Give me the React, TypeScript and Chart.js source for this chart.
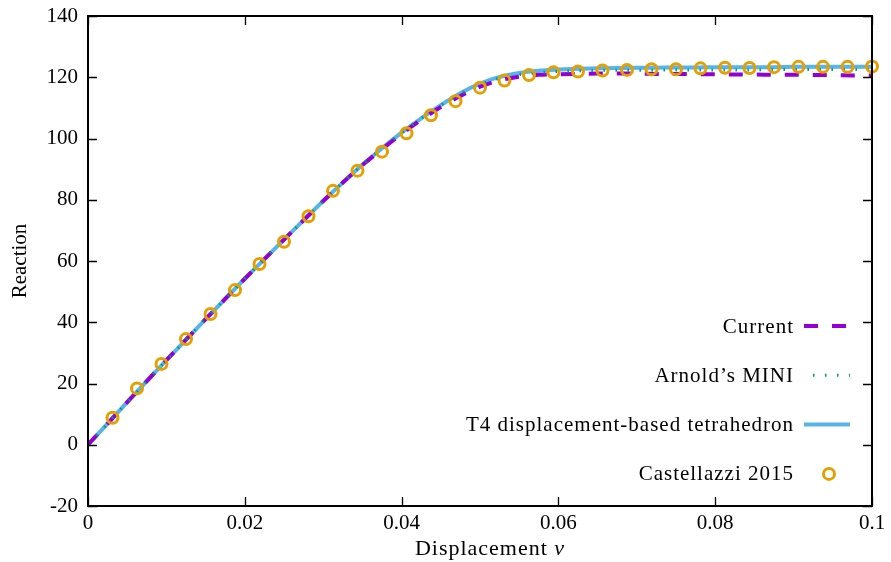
import React, { useEffect, useRef } from "react";
import { Chart, registerables } from "chart.js";

Chart.register(...registerables);

// ---------- data ----------
const lineX = [
  0, 0.0025, 0.005, 0.0075, 0.01, 0.0125, 0.015, 0.0175, 0.02, 0.0225,
  0.025, 0.0275, 0.03, 0.0325, 0.035, 0.0375, 0.04, 0.0425, 0.045, 0.0475,
  0.05, 0.0525, 0.055, 0.0575, 0.06, 0.0625, 0.065, 0.0675, 0.07, 0.0725,
  0.075, 0.0775, 0.08, 0.0825, 0.085, 0.0875, 0.09, 0.0925, 0.095, 0.0975, 0.1,
];

const currentY = [
  0, 6.9, 13.9, 20.8, 27.6, 34.3, 41.0, 47.6, 54.2, 60.6,
  67.0, 73.3, 79.6, 85.6, 91.3, 96.5, 101.5, 106.1, 110.3, 113.9,
  116.9, 119.0, 120.2, 120.8, 121.0, 121.1, 121.2, 121.2, 121.2, 121.1,
  121.1, 121.0, 121.0, 120.9, 120.9, 120.8, 120.8, 120.7, 120.7, 120.6, 120.6,
];

const miniY = [
  0, 6.9, 13.9, 20.8, 27.6, 34.3, 41.0, 47.6, 54.2, 60.6,
  67.0, 73.3, 79.6, 85.6, 91.4, 96.8, 101.9, 106.6, 110.9, 114.6,
  117.6, 119.7, 120.9, 121.5, 121.9, 122.1, 122.2, 122.3, 122.3, 122.3,
  122.4, 122.4, 122.4, 122.4, 122.4, 122.5, 122.5, 122.5, 122.5, 122.5, 122.5,
];

const t4Y = [
  0, 6.9, 13.9, 20.8, 27.6, 34.3, 41.0, 47.6, 54.2, 60.6,
  67.0, 73.3, 79.6, 85.6, 91.4, 96.8, 101.9, 106.6, 110.9, 114.8,
  117.9, 120.1, 121.4, 122.1, 122.5, 122.8, 122.9, 123.0, 123.1, 123.1,
  123.2, 123.2, 123.3, 123.3, 123.3, 123.3, 123.4, 123.4, 123.4, 123.4, 123.4,
];

const castX = [
  0.003125, 0.00625, 0.009375, 0.0125, 0.015625, 0.01875, 0.021875, 0.025,
  0.028125, 0.03125, 0.034375, 0.0375, 0.040625, 0.04375, 0.046875, 0.05,
  0.053125, 0.05625, 0.059375, 0.0625, 0.065625, 0.06875, 0.071875, 0.075,
  0.078125, 0.08125, 0.084375, 0.0875, 0.090625, 0.09375, 0.096875, 0.1,
];

const castY = [
  8.8, 18.4, 26.4, 34.5, 42.7, 50.5, 59.0, 66.3,
  74.6, 82.9, 89.5, 95.7, 101.7, 107.6, 112.2, 116.6,
  118.9, 120.7, 121.6, 121.9, 122.2, 122.4, 122.6, 122.6,
  122.9, 123.1, 123.0, 123.3, 123.4, 123.4, 123.4, 123.5,
];

const seriesLabels = [
  "Current",
  "Arnold\u2019s MINI",
  "T4 displacement-based tetrahedron",
  "Castellazzi 2015",
];

const xTicks = [0, 0.02, 0.04, 0.06, 0.08, 0.1];
const xTickLabels = ["0", "0.02", "0.04", "0.06", "0.08", "0.1"];
const yTicks = [-20, 0, 20, 40, 60, 80, 100, 120, 140];
const yTickLabels = ["-20", "0", "20", "40", "60", "80", "100", "120", "140"];

const xTitle = "Displacement ";
const xTitleVar = "v";
const yTitle = "Reaction";

// ---------- styling ----------
const FONT = "'Liberation Serif', 'Times New Roman', serif";
const FONT_SIZE = 21;
const COLORS = ["#9400D3", "#009E73", "#56B4E9", "#E69F00"];

const pts = (xs: number[], ys: number[]) => xs.map((x, i) => ({ x, y: ys[i] }));

const framePlugin = {
  id: "gnuFrame",
  afterDraw(chart: any) {
    const { ctx, chartArea: a, scales } = chart;
    const xs = scales.x;
    const ys = scales.y;
    ctx.save();
    // ticks (inward, mirrored)
    ctx.strokeStyle = "#000";
    ctx.lineWidth = 1.3;
    const tl = 9;
    ctx.beginPath();
    for (const v of xTicks) {
      const px = Math.round(xs.getPixelForValue(v)) + 0.5;
      ctx.moveTo(px, a.bottom);
      ctx.lineTo(px, a.bottom - tl);
      ctx.moveTo(px, a.top);
      ctx.lineTo(px, a.top + tl);
    }
    for (const v of yTicks) {
      const py = Math.round(ys.getPixelForValue(v)) + 0.5;
      ctx.moveTo(a.left, py);
      ctx.lineTo(a.left + tl, py);
      ctx.moveTo(a.right, py);
      ctx.lineTo(a.right - tl, py);
    }
    ctx.stroke();
    // frame
    ctx.lineWidth = 2;
    ctx.strokeRect(a.left, a.top, a.right - a.left, a.bottom - a.top);

    // legend
    const textRight = a.right - 79;
    const sx0 = a.right - 68;
    const sx1 = a.right - 22;
    const y0 = a.top + 310;
    const dy = 49.3;
    ctx.font = `${FONT_SIZE}px ${FONT}`;
    (ctx as any).letterSpacing = "1px";
    ctx.fillStyle = "#000";
    ctx.textAlign = "right";
    ctx.textBaseline = "middle";
    chart.data.datasets.forEach((ds: any, i: number) => {
      const y = y0 + i * dy;
      ctx.fillStyle = "#000";
      ctx.fillText(ds.label, textRight + 1, y + 1);
      if (ds.showLine) {
        ctx.save();
        ctx.strokeStyle = ds.borderColor;
        ctx.lineWidth = ds.borderWidth;
        ctx.setLineDash(ds.borderDash || []);
        ctx.lineDashOffset = ds.legendDashOffset || 0;
        ctx.beginPath();
        ctx.moveTo(sx0, y);
        ctx.lineTo(sx1, y);
        ctx.stroke();
        ctx.restore();
      } else {
        ctx.save();
        ctx.strokeStyle = ds.pointBorderColor;
        ctx.lineWidth = ds.pointBorderWidth;
        ctx.beginPath();
        ctx.arc((sx0 + sx1) / 2 + 2, y, ds.pointRadius, 0, Math.PI * 2);
        ctx.stroke();
        ctx.restore();
      }
    });

    // x title
    const XT = 22;
    ctx.textAlign = "left";
    ctx.textBaseline = "middle";
    ctx.font = `${XT}px ${FONT}`;
    const w1 = ctx.measureText(xTitle).width;
    ctx.font = `italic ${XT}px ${FONT}`;
    const w2 = ctx.measureText(xTitleVar).width;
    const cx = (a.left + a.right) / 2 + 10;
    const start = cx - (w1 + w2) / 2;
    const ty = a.bottom + 43;
    ctx.font = `${XT}px ${FONT}`;
    ctx.fillText(xTitle, start, ty);
    ctx.font = `italic ${XT}px ${FONT}`;
    ctx.fillText(xTitleVar, start + w1, ty);

    // y title
    ctx.save();
    (ctx as any).letterSpacing = "0px";
    ctx.translate(20, (a.top + a.bottom) / 2);
    ctx.rotate(-Math.PI / 2);
    ctx.textAlign = "center";
    ctx.textBaseline = "middle";
    ctx.font = `${FONT_SIZE}px ${FONT}`;
    ctx.fillText(yTitle, 0, 0);
    ctx.restore();

    ctx.restore();
  },
};

export default function App() {
  const ref = useRef<HTMLCanvasElement | null>(null);

  useEffect(() => {
    document.body.style.margin = "0";
    const canvas = ref.current;
    if (!canvas) return;
    const chart = new Chart(canvas, {
      type: "scatter",
      data: {
        datasets: [
          {
            label: seriesLabels[0],
            data: pts(lineX, currentY),
            showLine: true,
            borderColor: COLORS[0],
            backgroundColor: COLORS[0],
            borderWidth: 4,
            borderDash: [14, 14],
            pointRadius: 0,
            cubicInterpolationMode: "monotone",
            order: 2,
          } as any,
          {
            label: seriesLabels[1],
            data: pts(lineX, miniY),
            showLine: true,
            borderColor: COLORS[1],
            backgroundColor: COLORS[1],
            borderWidth: 3,
            borderDash: [1.5, 10.5],
            legendDashOffset: -9,
            pointRadius: 0,
            cubicInterpolationMode: "monotone",
            order: 1,
          } as any,
          {
            label: seriesLabels[2],
            data: pts(lineX, t4Y),
            showLine: true,
            borderColor: COLORS[2],
            backgroundColor: COLORS[2],
            borderWidth: 4,
            pointRadius: 0,
            cubicInterpolationMode: "monotone",
            order: 3,
          } as any,
          {
            label: seriesLabels[3],
            data: pts(castX, castY),
            showLine: false,
            pointRadius: 5.5,
            pointBorderWidth: 3,
            pointBorderColor: COLORS[3],
            pointBackgroundColor: "rgba(0,0,0,0)",
            borderColor: COLORS[3],
            backgroundColor: "rgba(0,0,0,0)",
            clip: false,
            order: 0,
          } as any,
        ],
      },
      options: {
        animation: false,
        responsive: false,
        maintainAspectRatio: false,
        layout: { padding: { left: 0, right: 19, top: 16, bottom: 0 } },
        plugins: {
          legend: { display: false },
          tooltip: { enabled: false },
        },
        scales: {
          x: {
            type: "linear",
            min: 0,
            max: 0.1,
            grid: { display: false, drawTicks: false },
            border: { display: false },
            afterBuildTicks: (s: any) => {
              s.ticks = xTicks.map((v) => ({ value: v }));
            },
            afterFit: (s: any) => {
              s.height = 56;
              s.paddingLeft = 0;
              s.paddingRight = 0;
              s.paddingTop = 0;
              s.paddingBottom = 0;
            },
            ticks: {
              autoSkip: false,
              maxRotation: 0,
              padding: 5,
              color: "#000",
              font: { family: FONT, size: FONT_SIZE },
              callback: (_v: any, i: number) => xTickLabels[i],
            },
          },
          y: {
            type: "linear",
            min: -20,
            max: 140,
            grid: { display: false, drawTicks: false },
            border: { display: false },
            afterBuildTicks: (s: any) => {
              s.ticks = yTicks.map((v) => ({ value: v }));
            },
            afterFit: (s: any) => {
              s.width = 88;
              s.paddingTop = 0;
              s.paddingBottom = 0;
              s.paddingLeft = 0;
              s.paddingRight = 0;
            },
            ticks: {
              autoSkip: false,
              padding: 10,
              color: "#000",
              font: { family: FONT, size: FONT_SIZE },
              callback: (_v: any, i: number) => yTickLabels[i],
            },
          },
        },
      },
      plugins: [framePlugin],
    });
    return () => chart.destroy();
  }, []);

  return (
    <div style={{ width: 891, height: 562 }}>
      <canvas ref={ref} width={891} height={562} style={{ width: 891, height: 562, display: "block" }} />
    </div>
  );
}
